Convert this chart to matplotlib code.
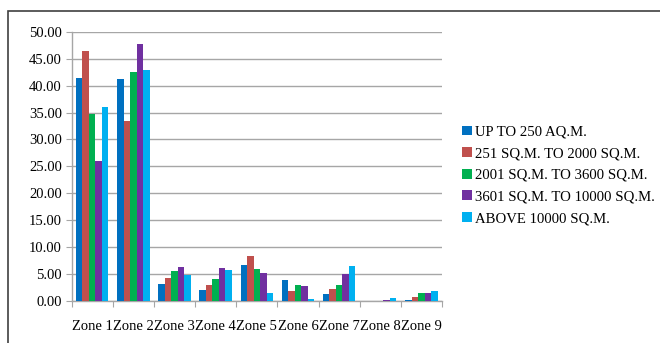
import matplotlib
matplotlib.use("Agg")
import matplotlib.pyplot as plt
from matplotlib.patches import Rectangle
import numpy as np

zones = ["Zone 1", "Zone 2", "Zone 3", "Zone 4", "Zone 5", "Zone 6", "Zone 7", "Zone 8", "Zone 9"]
series_names = [
    "UP TO 250 AQ.M.",
    "251 SQ.M. TO 2000 SQ.M.",
    "2001 SQ.M. TO 3600 SQ.M.",
    "3601 SQ.M. TO 10000 SQ.M.",
    "ABOVE 10000 SQ.M.",
]
up_to_250 = [41.5, 41.2, 3.1, 2.0, 6.6, 3.85, 1.3, 0.0, 0.25]
sqm_251_2000 = [46.5, 33.5, 4.3, 3.0, 8.4, 1.9, 2.2, 0.0, 0.75]
sqm_2001_3600 = [34.8, 42.5, 5.6, 4.1, 5.9, 2.9, 3.05, 0.0, 1.55]
sqm_3601_10000 = [26.0, 47.7, 6.3, 6.1, 5.15, 2.7, 5.05, 0.2, 1.55]
above_10000 = [36.1, 42.9, 4.8, 5.8, 1.4, 0.3, 6.45, 0.55, 1.8]
y_ticks = [0, 5, 10, 15, 20, 25, 30, 35, 40, 45, 50]

series = [up_to_250, sqm_251_2000, sqm_2001_3600, sqm_3601_10000, above_10000]
colors = ["#0070C0", "#C0504D", "#00B050", "#7030A0", "#00B0F0"]

plt.rcParams["font.family"] = ["Liberation Serif", "DejaVu Serif"]

fig = plt.figure(figsize=(6.6, 3.43), dpi=100)
ax = fig.add_axes([0.1086, 0.1224, 0.561, 0.785])

x = np.arange(len(zones))
bw = 0.158
for i, (vals, c, name) in enumerate(zip(series, colors, series_names)):
    ax.bar(x + (i - 2) * bw, vals, width=bw, color=c, label=name, zorder=3)

grid_c = "#A6A6A6"
ax.set_xlim(-0.5, len(zones) - 0.5)
ax.set_ylim(0, 50)
ax.set_yticks(y_ticks)
ax.set_yticklabels([f"{v:.2f}" for v in y_ticks], fontsize=10.5)
ax.yaxis.grid(True, color=grid_c, linewidth=1.0, zorder=0)
ax.set_xticks(np.arange(len(zones) + 1) - 0.5, minor=False)
ax.set_xticklabels([])
ax.set_xticks(x, minor=True)
ax.set_xticklabels(zones, minor=True, fontsize=10.5)
ax.tick_params(axis="x", which="minor", length=0, pad=14)
ax.tick_params(axis="x", which="major", length=4, color=grid_c, direction="out")
ax.tick_params(axis="y", length=4, color=grid_c, direction="out", pad=3)
for side in ["top", "right"]:
    ax.spines[side].set_visible(False)
for side in ["left", "bottom"]:
    ax.spines[side].set_color(grid_c)
    ax.spines[side].set_linewidth(1.0)

leg = fig.legend(
    loc="upper left",
    bbox_to_anchor=(0.691, 0.651),
    frameon=False,
    fontsize=10.6,
    handlelength=0.65,
    handleheight=0.65,
    handletextpad=0.25,
    labelspacing=0.58,
    borderaxespad=0,
)

# outer chart frame
fig.patches.append(Rectangle((8 / 660, -0.1), 1.2, 1 - 11 / 343 + 0.1,
                             transform=fig.transFigure, fill=False,
                             edgecolor="#404040", linewidth=1.2))

fig.savefig("out.png", dpi=100)
